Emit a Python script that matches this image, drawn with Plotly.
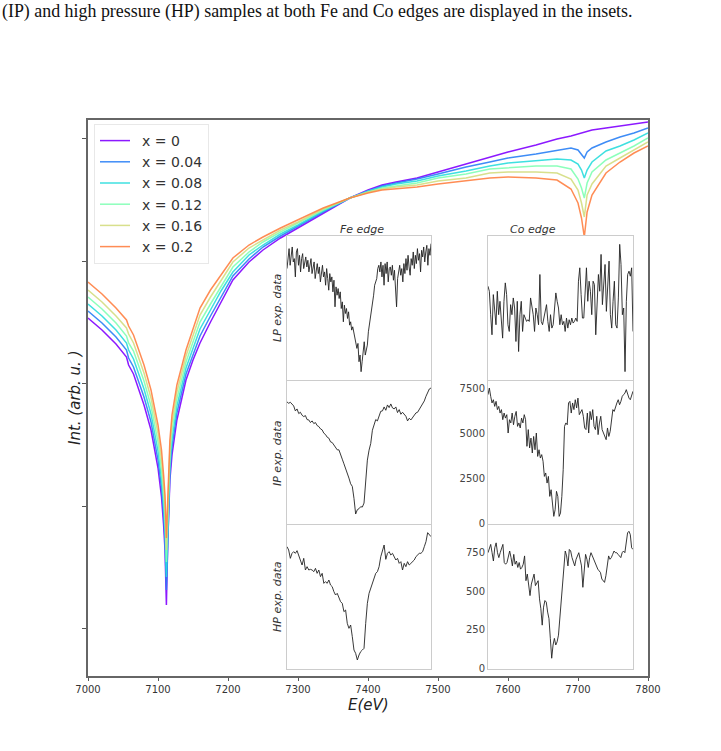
import numpy as np
import plotly.graph_objects as go

W, H = 721, 751

# ---------------- main panel data (arb. units) ----------------
energy = [7000, 7020, 7040, 7050, 7055, 7058, 7065, 7080, 7090, 7100,
          7105, 7108, 7110, 7112, 7114, 7117, 7120, 7127, 7140, 7150,
          7160, 7175, 7190, 7207, 7230, 7250, 7275, 7300, 7336, 7374,
          7400, 7420, 7440, 7470, 7500, 7540, 7574, 7600, 7640, 7670,
          7690, 7700, 7705, 7709, 7713, 7720, 7740, 7760, 7780, 7800]

int_x000 = [358, 346, 332, 324, 319, 311, 302, 271, 246, 208,
            179, 151, 126, 71, 136, 196, 221, 256, 296, 316,
            333, 354, 373, 396, 414, 426, 438, 448, 463, 478,
            486, 491, 494, 498, 504, 512, 519, 524, 531, 537,
            540, 542, 543, 544, 545, 546, 548, 550, 552, 554]
int_x004 = [365, 353, 339, 331, 326, 318, 309, 279, 254, 216,
            188, 161, 136, 86, 146, 204, 229, 263, 302, 322,
            340, 360, 379, 400, 417, 429, 440, 450, 464, 478,
            485, 490, 493, 497, 502, 509, 514, 518, 522, 526,
            528, 526, 522, 518, 524, 528, 534, 539, 543, 548]
int_x008 = [372, 360, 346, 338, 333, 326, 317, 287, 262, 225,
            197, 171, 146, 99, 156, 212, 237, 270, 308, 328,
            347, 366, 385, 404, 421, 431, 442, 451, 465, 478,
            485, 489, 492, 495, 500, 505, 510, 513, 515, 517,
            516, 512, 506, 498, 506, 514, 525, 530, 536, 543]
int_x012 = [379, 367, 353, 345, 340, 333, 325, 295, 270, 234,
            206, 181, 158, 114, 166, 220, 245, 277, 314, 334,
            354, 372, 390, 409, 424, 434, 444, 453, 466, 478,
            484, 488, 490, 493, 498, 502, 507, 508, 510, 510,
            507, 497, 488, 478, 493, 504, 516, 523, 530, 538]
int_x016 = [386, 374, 360, 352, 348, 342, 333, 303, 278, 243,
            216, 191, 170, 126, 176, 228, 253, 284, 320, 340,
            361, 379, 396, 414, 428, 436, 446, 454, 467, 478,
            484, 487, 489, 491, 495, 498, 503, 504, 504, 503,
            497, 486, 473, 459, 481, 492, 510, 518, 526, 534]
int_x020 = [394, 382, 368, 360, 356, 350, 341, 311, 286, 251,
            226, 201, 181, 138, 186, 236, 261, 291, 326, 346,
            368, 386, 401, 418, 431, 439, 448, 456, 468, 478,
            483, 486, 487, 489, 492, 495, 498, 499, 498, 496,
            487, 473, 458, 439, 464, 481, 503, 514, 523, 530]

series_labels = ["x = 0", "x = 0.04", "x = 0.08", "x = 0.12", "x = 0.16", "x = 0.2"]
series_values = [int_x000, int_x004, int_x008, int_x012, int_x016, int_x020]
series_colors = ["#8000ff", "#2a80f6", "#2adddd", "#80ffb4", "#d4dd80", "#ff8042"]

x_ticks = [7000, 7100, 7200, 7300, 7400, 7500, 7600, 7700, 7800]
y_ticks = [48, 170, 293, 415, 538]

# ---------------- inset data ----------------
fe_range = [7284.3, 7490.0]
co_range = [7571.4, 7778.6]

fe_lp = [335, 375, 395, 345, 385, 400, 355, 365, 310, 385, 395, 345, 375, 325, 365, 380,
         335, 355, 370, 340, 360, 325, 350, 365, 320, 345, 355, 305, 335, 350, 320, 340,
         295, 330, 345, 310, 325, 285, 335, 305, 270, 320, 295, 310, 265, 300, 220, 280,
         255, 275, 245, 265, 215, 235, 175, 225, 200, 215, 185, 205, 165, 175, 150, 160,
         145, 125, 115, 95, 110, 55, 75, 25, 55, 95, 115, 75, 95, 105, 145, 165,
         195, 205, 235, 255, 285, 295, 305, 335, 345, 325, 355, 310, 345, 285, 350, 320,
         355, 295, 335, 340, 315, 345, 300, 330, 285, 220, 305, 325, 345, 315, 335, 295,
         350, 320, 365, 330, 375, 340, 315, 365, 345, 385, 335, 375, 350, 395, 360, 380,
         325, 390, 370, 400, 355, 385, 405, 345, 395, 375, 410]
fe_ip = [370, 366, 369, 363, 358, 343, 349, 335, 339, 330, 326, 329, 317, 316, 308, 313,
         305, 308, 299, 296, 289, 286, 276, 272, 264, 261, 250, 248, 241, 236, 226, 226,
         209, 198, 184, 171, 154, 141, 124, 116, 80, 33, 46, 49, 55, 54, 66, 125,
         195, 225, 245, 285, 305, 317, 313, 330, 342, 343, 355, 345, 361, 353, 364, 352,
         349, 355, 338, 347, 333, 339, 331, 327, 313, 321, 316, 322, 328, 337, 339, 348,
         358, 366, 373, 387, 398, 409, 412]
fe_hp = [367, 357, 332, 347, 352, 347, 355, 342, 327, 312, 332, 297, 307, 297, 299, 297,
         292, 302, 287, 297, 277, 287, 257, 262, 257, 267, 252, 247, 232, 222, 227, 212,
         202, 197, 172, 177, 137, 122, 132, 97, 57, 47, 27, 42, 52, 57, 62, 137,
         197, 227, 242, 262, 272, 287, 292, 307, 337, 352, 372, 329, 347, 352, 342, 347,
         337, 327, 332, 317, 322, 297, 317, 307, 322, 312, 317, 322, 327, 337, 342, 347,
         347, 352, 367, 382, 409, 402, 397]
co_lp = [280, 265, 195, 135, 255, 195, 165, 265, 195, 235, 175, 125, 235, 290, 255, 165,
         145, 225, 195, 245, 215, 115, 235, 85, 195, 235, 145, 195, 185, 175, 180, 175,
         245, 215, 195, 145, 215, 195, 165, 315, 175, 165, 185, 215, 225, 175, 145, 195,
         155, 165, 205, 260, 235, 215, 165, 195, 165, 175, 145, 185, 155, 180, 165, 185,
         170, 175, 185, 175, 295, 335, 255, 185, 185, 275, 335, 235, 295, 265, 195, 295,
         285, 135, 215, 315, 265, 375, 225, 305, 345, 205, 265, 355, 195, 155, 235, 295,
         165, 155, 245, 405, 345, 195, 215, 25, 235, 315, 325, 310, 335, 145]
co_ip = [7130, 7500, 7040, 6670, 6850, 6480, 6760, 6300, 6480, 6110, 6300, 5740, 6110, 5830, 6020, 5000,
         5740, 5560, 6110, 5460, 5930, 6200, 5370, 5560, 5280, 5830, 5560, 6020, 5740, 4260, 5190, 4170,
         4720, 3890, 4810, 4070, 5000, 3700, 4070, 3610, 3800, 3430, 2590, 2780, 2220, 2590, 1480, 1850,
         1110, 370, 740, 1760, 1480, 370, 560, 1480, 2960, 5370, 5560, 5460, 6670, 6760, 6110, 6670,
         6300, 6850, 6390, 6940, 6020, 6200, 6300, 5930, 5280, 5190, 6110, 5000, 6200, 5740, 6300, 5370,
         5190, 5930, 4910, 5560, 5930, 5190, 5000, 4720, 4630, 5280, 4810, 5090, 5740, 6300, 6200, 6480,
         6670, 6850, 6570, 6760, 7040, 7130, 7220, 7410, 7130, 6940, 6850, 7040, 7320]
co_hp = [750, 771, 804, 750, 696, 782, 814, 750, 718, 750, 771, 804, 686, 675, 686, 718,
         761, 718, 664, 739, 675, 696, 654, 686, 643, 654, 675, 729, 568, 611, 546, 471,
         546, 589, 611, 536, 557, 568, 450, 386, 279, 396, 439, 429, 364, 321, 193, 64,
         150, 193, 150, 171, 214, 321, 450, 579, 686, 761, 729, 664, 771, 761, 718, 686,
         664, 707, 729, 750, 707, 664, 525, 664, 739, 707, 654, 718, 750, 729, 707, 686,
         664, 643, 632, 621, 579, 568, 557, 600, 654, 729, 707, 718, 739, 761, 750, 750,
         739, 729, 718, 750, 761, 750, 814, 879, 889, 868, 782, 771]

co_ip_ticks = [0, 2500, 5000, 7500]
co_hp_ticks = [0, 250, 500, 750]

# ---------------- figure ----------------
def px_x(p):
    return p / W

def px_y(p):
    return 1 - p / H

FONT = "DejaVu Sans"
fig = go.Figure()

for lab, vals, col in zip(series_labels, series_values, series_colors):
    fig.add_trace(go.Scatter(x=energy, y=vals, mode="lines", name="\u2002" + lab,
                             line=dict(color=col, width=1.5), opacity=0.9,
                             xaxis="x", yaxis="y", legendgroup=lab))

insets = [
    ("x2", "y2", fe_lp, fe_range), ("x3", "y3", fe_ip, fe_range), ("x4", "y4", fe_hp, fe_range),
    ("x5", "y5", co_lp, co_range), ("x6", "y6", co_ip, co_range), ("x7", "y7", co_hp, co_range),
]
for xa, ya, vals, rng in insets:
    xs = np.linspace(rng[0], rng[1], len(vals))
    fig.add_trace(go.Scatter(x=xs, y=vals, mode="lines", showlegend=False,
                             line=dict(color="#222222", width=0.9),
                             xaxis=xa, yaxis=ya, hoverinfo="skip"))

layout = dict(
    template="none",
    width=W, height=H,
    margin=dict(l=0, r=0, t=0, b=0, autoexpand=False),
    paper_bgcolor="white", plot_bgcolor="white",
    font=dict(family=FONT, color="#333333"),
    showlegend=True,
    legend=dict(x=px_x(94), y=px_y(124), xanchor="left", yanchor="top",
                bgcolor="rgba(255,255,255,0.9)", bordercolor="#e8e8e8", borderwidth=1,
                font=dict(family=FONT, size=14, color="#333333"), tracegroupgap=0),
    xaxis=dict(domain=[px_x(88), px_x(648)], range=[7000, 7800], anchor="y",
               tickvals=x_ticks, ticks="outside", ticklen=3, tickcolor="#555555",
               tickfont=dict(size=10, color="#333333"), automargin=False,
               showline=True, mirror=True, linecolor="#666666", linewidth=1.5,
               showgrid=False, zeroline=False),
    yaxis=dict(domain=[px_y(676), px_y(120)], range=[0, 556], anchor="x",
               tickvals=y_ticks, ticks="outside", ticklen=4, tickcolor="#555555",
               showticklabels=False, automargin=False,
               showline=True, mirror=True, linecolor="#666666", linewidth=1.5,
               showgrid=False, zeroline=False),
)

fe_dom = [px_x(287), px_x(431)]
co_dom = [px_x(488), px_x(633)]
rows = [[px_y(380), px_y(236)], [px_y(525), px_y(381)], [px_y(669), px_y(525)]]
yranges = [[0, 433], [0, 433], [0, 432], [0, 430], [-110, 7890], [-6, 930]]
yticks = [None, None, None, None, co_ip_ticks, co_hp_ticks]
for i in range(6):
    n = i + 2
    dom = fe_dom if i < 3 else co_dom
    rng = fe_range if i < 3 else co_range
    layout["xaxis%d" % n] = dict(domain=dom, range=rng, anchor="y%d" % n,
                                 showticklabels=False, ticks="", showgrid=False,
                                 zeroline=False, showline=True, mirror=True,
                                 linecolor="#cccccc", linewidth=1, automargin=False)
    yd = dict(domain=rows[i % 3], range=yranges[i], anchor="x%d" % n,
              showgrid=False, zeroline=False, showline=True, mirror=True,
              linecolor="#cccccc", linewidth=1, ticks="", automargin=False)
    if yticks[i] is None:
        yd["showticklabels"] = False
    else:
        yd["tickvals"] = yticks[i]
        yd["tickfont"] = dict(size=10, color="#444444")
    layout["yaxis%d" % n] = yd

fig.update_layout(**layout)

ann = [
    dict(text="(IP) and high pressure (HP) samples at both Fe and Co edges are displayed in the insets.",
         x=0, y=px_y(11), xanchor="left", yanchor="middle",
         font=dict(family="Liberation Serif", size=17.9, color="#111111")),
    dict(text="<i>Fe edge</i>", x=px_x(362), y=px_y(229), xanchor="center", yanchor="middle",
         font=dict(size=11, color="#333333")),
    dict(text="<i>Co edge</i>", x=px_x(533), y=px_y(229), xanchor="center", yanchor="middle",
         font=dict(size=11, color="#333333")),
    dict(text="<i>LP exp. data</i>", x=px_x(277), y=px_y(308), textangle=-90,
         xanchor="center", yanchor="middle", font=dict(size=11, color="#333333")),
    dict(text="<i>IP exp. data</i>", x=px_x(277), y=px_y(453), textangle=-90,
         xanchor="center", yanchor="middle", font=dict(size=11, color="#333333")),
    dict(text="<i>HP exp. data</i>", x=px_x(277), y=px_y(597), textangle=-90,
         xanchor="center", yanchor="middle", font=dict(size=11, color="#333333")),
    dict(text="<i>E(eV)</i>", x=px_x(368), y=px_y(705), xanchor="center", yanchor="middle",
         font=dict(size=15, color="#222222")),
    dict(text="<i>Int. (arb. u. )</i>", x=px_x(75), y=px_y(398), textangle=-90,
         xanchor="center", yanchor="middle", font=dict(size=15, color="#222222")),
]
for a in ann:
    a.update(xref="paper", yref="paper", showarrow=False)
fig.update_layout(annotations=ann)

fig.write_html("out.html")
